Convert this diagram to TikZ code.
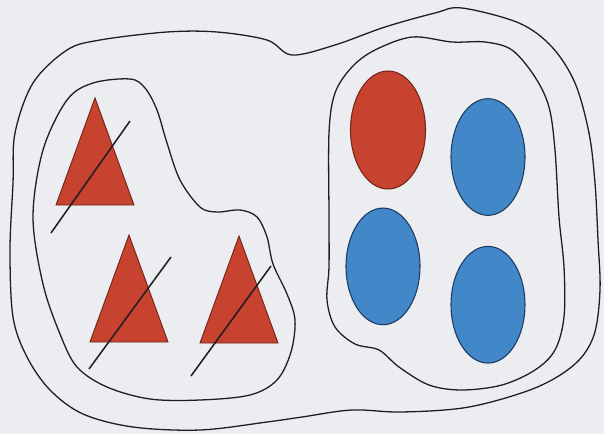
\documentclass[tikz,border=0pt]{standalone}
\usepackage{xcolor}
\usetikzlibrary{shapes,positioning}

\definecolor{paper}{RGB}{236,237,240}
\definecolor{inkline}{RGB}{30,30,32}
\definecolor{redfill}{RGB}{200,66,48}
\definecolor{rededge}{RGB}{115,38,26}
\definecolor{bluefill}{RGB}{66,135,200}
\definecolor{blueedge}{RGB}{28,58,98}

\begin{document}
\begin{tikzpicture}[
        x=0.03cm, y=-0.03cm,
        setline/.style={draw=inkline, line width=1.1pt},
        redball/.style={ellipse, draw=rededge, fill=redfill, line width=0.9pt, minimum width=2.25cm, minimum height=3.54cm, inner sep=0pt},
        blueball/.style={ellipse, draw=blueedge, fill=bluefill, line width=0.9pt, minimum width=2.22cm, minimum height=3.5cm, inner sep=0pt},
        tri/.style={draw=rededge, fill=redfill, line width=0.8pt},
        strike/.style={draw=inkline, line width=1.3pt}
    ]

    % Paper
    \fill[paper] (0,0) rectangle (604,434);
    \useasboundingbox (0,0) rectangle (604,434);

    % Outer set
    \draw[setline] plot[smooth cycle, tension=0.55] coordinates {
        (50,390) (27,357) (13,317) (10,250) (13,183) (15,133) (33,83) (67,50)
        (100,40) (167,32) (217,32) (267,40) (292,55) (335,45) (385,27) (435,13)
        (462,8) (519,23) (552,47) (575,83) (589,133) (595,183) (598,240)
        (600,290) (594,335) (575,364) (535,388) (469,407) (402,412) (352,410)
        (302,417) (267,422) (200,430) (133,427) (83,414)};

    % Inner sets
    \draw[setline] plot[smooth cycle, tension=0.55] coordinates {
        (33,217) (43,150) (67,100) (93,83) (130,79) (145,88) (157,110)
        (167,143) (180,180) (200,207) (217,212) (240,210) (257,217) (267,237)
        (273,264) (287,294) (295,320) (291,352) (277,380) (250,395) (200,400)
        (150,399) (107,387) (77,367) (60,334) (43,284)};
    \draw[setline] plot[smooth cycle, tension=0.55] coordinates {
        (329,217) (329,133) (335,93) (352,67) (375,50) (412,37) (452,42)
        (485,42) (512,50) (535,77) (549,107) (555,150) (559,217) (564,267)
        (564,317) (555,350) (535,370) (502,385) (462,390) (429,385) (399,367)
        (379,350) (355,344) (335,327) (327,300) (329,267)};

    % Triangles
    \foreach \n/\ax/\ay in {tri1/95/98, tri2/129/235, tri3/239/236} {
        \coordinate (\n) at (\ax,\ay);
        \draw[tri] (\n) -- ++(-39,107) -- ++(78,0) -- cycle;
    }

    % Strike-through lines
    \draw[strike] (130,121) -- (51,233);
    \draw[strike] (171,257) -- (89,369);
    \draw[strike] (271,266) -- (191,376);

    % Circles
    \node[redball] (red1) at (388,130) {};
    \node[blueball] (blue1) at (488,157) {};
    \node[blueball, below=0.54cm of red1, xshift=-0.15cm] (blue2) {};
    \node[blueball, below=0.9cm of blue1] (blue3) {};

\end{tikzpicture}
\end{document}
